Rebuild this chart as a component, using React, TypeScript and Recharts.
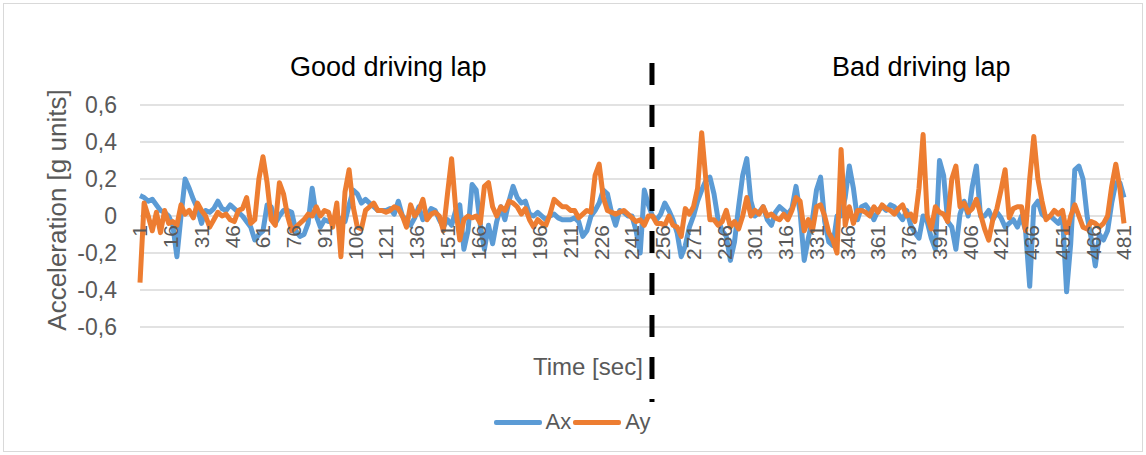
import { LineChart, Line, XAxis, YAxis, CartesianGrid, ReferenceLine, Legend } from 'recharts';

// time in seconds, read every 2 s along the x axis
const TIME: number[] = Array.from({ length: 241 }, (_, i) => 1 + i * 2);

// Ax [g], t = 1..481 step 2
const AX: number[] = [
  0.11, 0.10, 0.08, 0.09, 0.06, 0.03, 0.02, 0.00, -0.05, -0.22, 0.00, 0.20, 0.15, 0.09, 0.04, -0.04, 0.03, 0.02, 0.04, 0.08, 0.04, 0.03,
  0.06, 0.04, 0.02, 0.00, -0.03, -0.06, -0.13, -0.10, -0.08, 0.06, 0.05, -0.04, 0.00, 0.03, 0.03, 0.02, -0.08, -0.11, -0.10, -0.04, 0.15,
  0.00, -0.06, -0.02, -0.03, -0.02, 0.00, -0.02, -0.03, 0.06, 0.14, 0.12, 0.07, 0.09, 0.07, 0.05, 0.03, 0.03, 0.03, 0.04, 0.01, 0.08, 0.00,
  -0.02, -0.05, -0.01, 0.05, -0.02, 0.00, 0.04, 0.03, -0.02, -0.06, -0.02, -0.05, 0.03, 0.06, -0.18, -0.08, 0.17, 0.14, -0.05, -0.18,
  -0.05, -0.15, -0.03, 0.05, -0.02, 0.08, 0.16, 0.10, 0.07, 0.08, 0.01, 0.00, 0.02, 0.00, -0.02, 0.00, 0.01, -0.01, -0.02, -0.02, -0.02, -0.01, -0.03, -0.11, -0.08,
  0.00, 0.03, 0.07, 0.14, 0.12, 0.02, -0.05, 0.03, 0.02, 0.00, 0.00, -0.08, -0.20, 0.14, 0.06, 0.00, -0.02, 0.01, 0.07, 0.03, -0.02,
  -0.09, -0.22, -0.16, -0.06, 0.00, 0.08, 0.14, 0.19, 0.21, 0.12, -0.02, -0.08, -0.11, -0.24, -0.14, 0.05, 0.22, 0.31, 0.08, 0.00, 0.02, 0.05,
  -0.02, -0.05, 0.02, 0.05, 0.03, 0.01, 0.04, 0.16, 0.02, -0.24, -0.12, -0.02, 0.14, 0.21, -0.03, -0.14, -0.16, 0.00, 0.00, 0.10, 0.27,
  0.15, -0.02, 0.05, 0.06, 0.03, -0.02, 0.03, 0.05, 0.03, 0.06, 0.05, 0.01, -0.02, 0.03, -0.05, -0.09, -0.12, 0.00, -0.03, -0.12, -0.18, 0.30,
  0.22, -0.03, -0.06, -0.18, 0.01, 0.08, 0.00, 0.16, 0.27, 0.00, 0.00, 0.03, -0.02, 0.02, -0.01, -0.06, -0.04, -0.02, -0.06, 0.00, -0.08, -0.38,
  0.05, 0.08, 0.01, -0.01, 0.00, -0.02, -0.04, 0.00, -0.41, -0.15, 0.25, 0.27, 0.20, 0.00, -0.12, -0.27, -0.10, -0.13, -0.08, 0.07, 0.18, 0.18, 0.10,
];

// Ay [g], t = 1..481 step 2
const AY: number[] = [
  -0.36, 0.07, 0.00, -0.08, 0.02, -0.09, 0.03, -0.04, -0.03, -0.05, 0.06, 0.01, 0.03, -0.01, 0.07, 0.03, 0.00, -0.06, -0.02, 0.02, 0.00, 0.01,
  -0.02, -0.03, 0.03, 0.04, 0.10, -0.04, -0.02, 0.20, 0.32, 0.18, -0.02, -0.05, 0.18, 0.12, 0.00, -0.08, -0.06, -0.04, -0.02, 0.01, 0.00,
  0.05, 0.00, 0.03, 0.02, -0.06, 0.07, -0.22, 0.13, 0.25, 0.05, -0.06, -0.07, 0.03, 0.05, 0.07, 0.03, 0.03, 0.02, 0.03, 0.05, 0.04, 0.00,
  -0.06, 0.06, 0.00, 0.03, 0.09, -0.02, 0.01, 0.02, 0.00, -0.08, 0.12, 0.31, 0.04, -0.13, -0.02, 0.00, -0.01, 0.00, -0.04, 0.16,
  0.18, 0.05, 0.00, 0.05, 0.03, 0.08, 0.07, 0.05, 0.01, 0.04, -0.02, -0.06, -0.02, -0.04, -0.05, 0.01, 0.09, 0.07, 0.05, 0.05, 0.03, 0.03, -0.01, 0.01, 0.03,
  0.02, 0.22, 0.28, 0.10, 0.03, 0.02, 0.01, 0.02, 0.03, 0.01, -0.01, -0.03, -0.02, -0.05, 0.00, 0.00, -0.04, -0.04, -0.05, 0.00, -0.05,
  -0.06, -0.11, 0.04, 0.01, 0.05, 0.15, 0.45, 0.20, -0.02, -0.02, -0.05, -0.03, 0.03, -0.06, -0.03, -0.07, 0.00, 0.10, 0.00, 0.03, 0.01, 0.05,
  0.00, 0.01, -0.01, -0.02, 0.01, -0.02, 0.03, 0.10, 0.08, -0.08, -0.02, -0.08, 0.05, 0.06, 0.00, -0.09, -0.13, -0.20, 0.36, -0.05, 0.05,
  -0.04, 0.03, 0.03, 0.02, 0.00, 0.05, 0.02, 0.06, 0.04, 0.03, 0.01, 0.04, 0.06, 0.00, 0.01, -0.03, 0.15, 0.44, 0.00, -0.07, 0.05, 0.02,
  0.01, -0.03, 0.20, 0.27, 0.05, 0.07, 0.02, 0.04, 0.09, 0.01, -0.07, -0.13, -0.02, 0.04, 0.14, 0.25, -0.01, 0.04, 0.05, 0.05, -0.08, 0.20,
  0.43, 0.20, 0.08, -0.02, 0.00, 0.03, 0.01, 0.03, -0.09, 0.00, 0.06, 0.00, -0.06, -0.07, -0.03, -0.04, -0.06, -0.04, 0.00, 0.16, 0.28, 0.15, -0.04,
];

const X_TICKS = [1, 16, 31, 46, 61, 76, 91, 106, 121, 136, 151, 166, 181, 196, 211, 226, 241, 256, 271, 286, 301, 316, 331, 346, 361, 376, 391, 406, 421, 436, 451, 466, 481];
const Y_TICKS = [-0.6, -0.4, -0.2, 0, 0.2, 0.4, 0.6];
const DIVIDER_T = 250.75; // where the laps split

const W = 1146;
const H = 455;
const MARGIN = { top: 105, right: 22, bottom: 98, left: 40 };
const Y_MIN = -0.6;
const Y_MAX = 0.6;
const PLOT_H = H - MARGIN.top - MARGIN.bottom - 30;
const ZERO_Y = MARGIN.top + PLOT_H * (Y_MAX / (Y_MAX - Y_MIN));

const FONT = '"Liberation Sans", Arial, sans-serif';
const GREY = '#595959';
const BLUE = '#5B9BD5';
const ORANGE = '#ED7D31';

const data = TIME.map((t, i) => ({ t, ax: AX[i], ay: AY[i] }));

const fmt = (v: number) => (v === 0 ? '0' : v.toFixed(1).replace('.', ','));

// Excel puts category labels on the zero line, not at the bottom of the plot
function TimeTick(props: { x?: number; payload?: { value: number } }) {
  const { x = 0, payload } = props;
  const y = ZERO_Y + 9;
  return (
    <text
      x={x} y={y} dy="0.35em"
      transform={`rotate(-90, ${x}, ${y})`}
      textAnchor="end"
      fill={GREY} fontSize={21} fontFamily={FONT}
    >
      {payload?.value}
    </text>
  );
}

function LegendRow(props: { payload?: { value: string; color: string }[] }) {
  const items = props.payload ?? [];
  return (
    <div style={{ display: 'flex', justifyContent: 'center', alignItems: 'center', fontFamily: FONT }}>
      {items.map(it => (
        <div key={it.value} style={{ display: 'flex', alignItems: 'center', marginRight: 2 }}>
          <span style={{ display: 'inline-block', width: 48, height: 5, background: it.color, borderRadius: 2 }} />
          <span style={{ marginLeft: 4, fontSize: 22, color: GREY }}>{it.value}</span>
        </div>
      ))}
    </div>
  );
}

const textBase: React.CSSProperties = {
  position: 'absolute', whiteSpace: 'nowrap', lineHeight: 1, fontFamily: FONT,
};

export default function App() {
  return (
    <div style={{ position: 'absolute', left: 0, top: 0, width: W, height: H, background: '#fff', overflow: 'hidden' }}>
      <div style={{ position: 'absolute', left: 3, top: 3, width: W - 8, height: H - 8, border: '1px solid #d9d9d9' }} />
      <LineChart width={W} height={H} data={data} margin={MARGIN}>
        <CartesianGrid vertical={false} stroke="#d9d9d9" strokeWidth={1.3} />
        <XAxis
          dataKey="t" type="number" domain={[1, 481]} ticks={X_TICKS} interval={0}
          height={30} axisLine={false} tickLine={false} tick={<TimeTick />}
        />
        <YAxis
          domain={[Y_MIN, Y_MAX]} ticks={Y_TICKS} width={100}
          axisLine={false} tickLine={false} tickMargin={17} tickFormatter={fmt}
          tick={{ fill: GREY, fontSize: 23, fontFamily: FONT }}
        />
        <Line name="Ax" dataKey="ax" type="linear" stroke={BLUE} strokeWidth={5} strokeLinejoin="round" dot={false} isAnimationActive={false} />
        <Line name="Ay" dataKey="ay" type="linear" stroke={ORANGE} strokeWidth={5} strokeLinejoin="round" dot={false} isAnimationActive={false} />
        <ReferenceLine
          segment={[{ x: DIVIDER_T, y: 0.827 }, { x: DIVIDER_T, y: -1.005 }]}
          stroke="#000" strokeWidth={5} strokeDasharray="22 20" ifOverflow="visible"
        />
        <Legend verticalAlign="middle" align="center" content={<LegendRow />} wrapperStyle={{ top: 409, left: 0, width: W }} />
      </LineChart>
      <div style={{ ...textBase, left: 290, top: 54, fontSize: 27, color: '#000' }}>Good driving lap</div>
      <div style={{ ...textBase, left: 832, top: 54, fontSize: 27, color: '#000' }}>Bad driving lap</div>
      <div style={{ ...textBase, left: 533, top: 355, fontSize: 24, color: GREY }}>Time [sec]</div>
      <div style={{ ...textBase, left: 57, top: 210, fontSize: 26, color: GREY, transform: 'translate(-50%, -50%) rotate(-90deg)' }}>
        Acceleration [g units]
      </div>
    </div>
  );
}
